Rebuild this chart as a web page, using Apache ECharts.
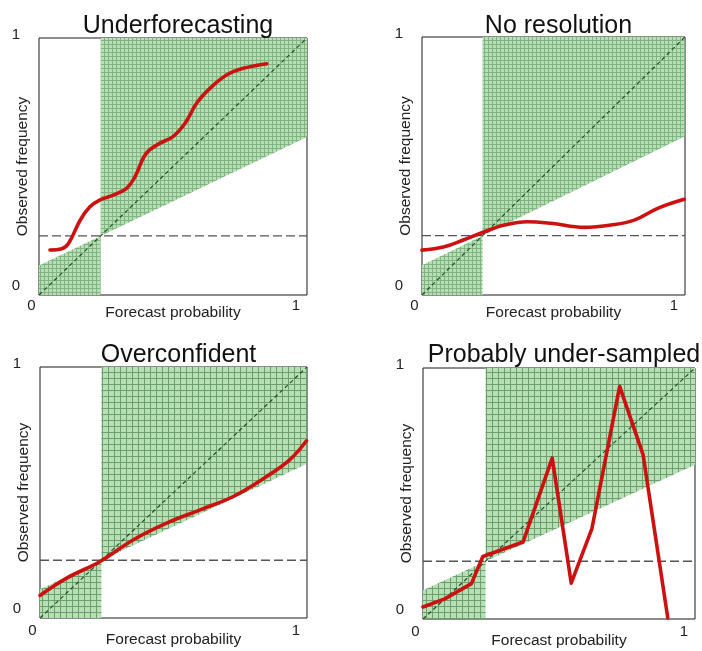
<!DOCTYPE html>
<html>
<head>
<meta charset="utf-8">
<script src="https://cdn.jsdelivr.net/npm/echarts@6/dist/echarts.min.js"></script>
<style>
  html, body { margin: 0; padding: 0; background: #fff; }
  #chart { width: 702px; height: 651px; }
</style>
</head>
<body>
<div id="chart"></div>
<script>
// Reliability diagrams: four typical shapes of a forecast calibration curve.
const panelTitles = ['Underforecasting', 'No resolution', 'Overconfident', 'Probably under-sampled'];
const climatology = [0.23, 0.23, 0.23, 0.23];
const tickValues = [0, 1];
const xAxisName = 'Forecast probability';
const yAxisName = 'Observed frequency';

// Reliability curves: [forecast probability, observed frequency]
const underforecastingCurve = [
  [0.041, 0.175], [0.085, 0.18], [0.11, 0.20], [0.153, 0.29], [0.19, 0.343],
  [0.228, 0.37], [0.277, 0.389], [0.327, 0.415], [0.358, 0.46], [0.40, 0.551],
  [0.45, 0.59], [0.50, 0.616], [0.545, 0.668], [0.588, 0.746], [0.638, 0.804],
  [0.70, 0.856], [0.762, 0.882], [0.85, 0.90]
];
const noResolutionCurve = [
  [0.0, 0.174], [0.085, 0.187], [0.157, 0.213], [0.237, 0.245], [0.313, 0.271],
  [0.40, 0.284], [0.49, 0.278], [0.617, 0.262], [0.719, 0.271], [0.807, 0.29],
  [0.896, 0.336], [0.997, 0.371]
];
const overconfidentCurve = [
  [0.0, 0.09], [0.1, 0.159], [0.225, 0.225], [0.35, 0.312], [0.474, 0.378],
  [0.6, 0.431], [0.724, 0.484], [0.849, 0.564], [0.936, 0.631], [0.998, 0.706]
];
const undersampledCurve = [
  [0.0, 0.048], [0.08, 0.08], [0.178, 0.141], [0.22, 0.249], [0.368, 0.307],
  [0.475, 0.641], [0.545, 0.143], [0.621, 0.36], [0.723, 0.927], [0.809, 0.655],
  [0.90, 0.004]
];
const curves = [underforecastingCurve, noResolutionCurve, overconfidentCurve, undersampledCurve];
const smoothCurve = [true, true, true, false];

const FONT = "'Liberation Sans', Arial, Helvetica, sans-serif";

const grids = [
  { left: 39, top: 38, width: 268, height: 257 },
  { left: 422, top: 37, width: 263, height: 258 },
  { left: 40, top: 367, width: 267, height: 251 },
  { left: 423, top: 368, width: 272, height: 251 }
];
const hatchCell = [4, 4, 6, 6];

// Light green fill crossed by a fine darker grid
function hatchPattern(cell) {
  const cv = document.createElement('canvas');
  cv.width = cell; cv.height = cell;
  const ctx = cv.getContext('2d');
  ctx.fillStyle = '#b6dfb6';
  ctx.fillRect(0, 0, cell, cell);
  ctx.fillStyle = cell > 4 ? '#6c9f6c' : '#80b480';
  ctx.fillRect(0, 0, cell, 1);
  ctx.fillRect(0, 0, 1, cell);
  return { image: cv, repeat: 'repeat' };
}

const option = {
  animation: false,
  backgroundColor: '#ffffff',
  title: [],
  grid: [],
  xAxis: [],
  yAxis: [],
  series: []
};

grids.forEach((g, i) => {
  option.grid.push(Object.assign({
    show: true, borderColor: '#1a1a1a', borderWidth: 1, backgroundColor: 'transparent',
    containLabel: false, outerBoundsMode: 'none'
  }, g));

  option.title.push({
    text: panelTitles[i],
    left: g.left + g.width / 2,
    textAlign: 'center',
    top: i < 2 ? 9 : 338,
    textStyle: { fontFamily: FONT, fontSize: 25, fontWeight: 'normal', color: '#111' }
  });

  option.xAxis.push({
    gridIndex: i, type: 'value', min: 0, max: 1, interval: 1,
    name: xAxisName, nameLocation: 'middle', nameGap: i < 2 ? 10 : 14, nameMoveOverlap: false,
    nameTextStyle: { fontFamily: FONT, fontSize: 15.5, color: '#222' },
    axisLine: { show: false }, axisTick: { show: false }, splitLine: { show: false },
    axisLabel: {
      margin: i < 2 ? 3 : 5,
      formatter: v => (v === tickValues[0] ? '{a|' + v + '}' : '{b|' + v + '}'),
      rich: {
        a: { fontFamily: FONT, fontSize: 15, color: '#222', padding: [0, 15, 0, 0] },
        b: { fontFamily: FONT, fontSize: 15, color: '#222', padding: [0, 22, 0, 0] }
      }
    }
  });

  option.yAxis.push({
    gridIndex: i, type: 'value', min: 0, max: 1, interval: 1,
    name: yAxisName, nameLocation: 'middle', nameGap: 8, nameMoveOverlap: false,
    nameTextStyle: { fontFamily: FONT, fontSize: 15.5, color: '#222' },
    axisLine: { show: false }, axisTick: { show: false }, splitLine: { show: false },
    axisLabel: {
      margin: 19,
      formatter: v => (v === tickValues[0] ? '{a|' + v + '}' : '{b|' + v + '}'),
      rich: {
        a: { fontFamily: FONT, fontSize: 15, color: '#222', padding: [0, 0, 18, 0] },
        b: { fontFamily: FONT, fontSize: 15, color: '#222', padding: [0, 0, 7, 0] }
      }
    }
  });

  const c = climatology[i];
  const fill = hatchPattern(hatchCell[i]);

  // Skill region: above the no-skill line right of climatology, below it on the left
  option.series.push({
    type: 'custom', xAxisIndex: i, yAxisIndex: i, silent: true, z: 1,
    data: [[c]],
    renderItem: (params, api) => {
      const cl = api.value(0);
      const upper = [[cl, cl], [1, (1 + cl) / 2], [1, 1], [cl, 1]].map(p => api.coord(p));
      const lower = [[0, 0], [0, cl / 2], [cl, cl], [cl, 0]].map(p => api.coord(p));
      return {
        type: 'group',
        children: [
          { type: 'polygon', shape: { points: upper }, style: { fill: fill } },
          { type: 'polygon', shape: { points: lower }, style: { fill: fill } }
        ]
      };
    }
  });

  // Perfect reliability diagonal
  option.series.push({
    type: 'line', xAxisIndex: i, yAxisIndex: i, silent: true, z: 3,
    data: [[0, 0], [1, 1]], symbol: 'none',
    lineStyle: { color: '#254d25', width: 1.2, type: [4, 3] }
  });

  // Climatological frequency
  option.series.push({
    type: 'line', xAxisIndex: i, yAxisIndex: i, silent: true, z: 3,
    data: [[0, c], [1, c]], symbol: 'none',
    lineStyle: { color: '#555', width: 1.3, type: [9, 4] }
  });

  // Reliability curve
  option.series.push({
    type: 'line', xAxisIndex: i, yAxisIndex: i, silent: true, z: 5,
    data: curves[i], symbol: 'none', smooth: smoothCurve[i] ? 0.4 : false,
    lineStyle: { color: '#cc1111', width: 3.6, cap: 'round', join: 'round' }
  });
});

const chart = echarts.init(document.getElementById('chart'), null, { renderer: 'canvas' });
chart.setOption(option);
</script>
</body>
</html>
